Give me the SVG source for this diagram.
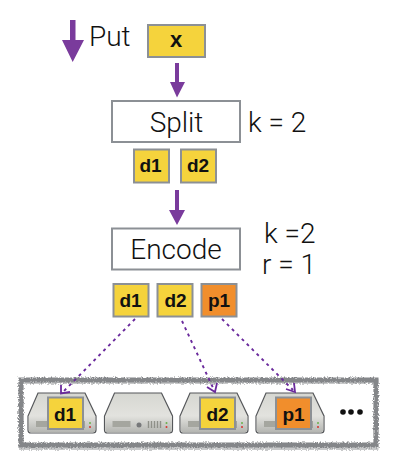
<svg xmlns="http://www.w3.org/2000/svg" xmlns:xlink="http://www.w3.org/1999/xlink" width="400" height="472" viewBox="0 0 400 472">
<style>
.lbl{font-family:"Roboto","Liberation Sans",sans-serif;font-weight:300;fill:#111;font-size:28px}
.box{fill:#fff;stroke:#8c9095;stroke-width:2}
.y{fill:#f5d33c;stroke:#8c9095;stroke-width:2}
.o{fill:#f18e2c;stroke:#8c9095;stroke-width:2}
.t{font-family:"Liberation Sans",sans-serif;font-weight:700;font-size:19px;fill:#111;text-anchor:middle}
.fat{fill:#7a3b9c}
.dash{fill:none;stroke:#6a2a9c;stroke-width:1.9;stroke-dasharray:3 4}
.head{fill:none;stroke:#6a2a9c;stroke-width:1.8}
</style>
<defs>
<linearGradient id="gt" x1="0" y1="0" x2="0" y2="1"><stop offset="0" stop-color="#d6d7d1"/><stop offset="1" stop-color="#ebebe8"/></linearGradient>
<linearGradient id="gb" x1="0" y1="0" x2="0" y2="1"><stop offset="0" stop-color="#e2e2de"/><stop offset="1" stop-color="#b4b5b1"/></linearGradient>
<filter id="rough" x="-5%" y="-15%" width="110%" height="130%">
<feTurbulence type="fractalNoise" baseFrequency="0.7" numOctaves="2" seed="3" result="n"/>
<feDisplacementMap in="SourceGraphic" in2="n" scale="4" result="d"/>
<feGaussianBlur in="d" stdDeviation="0.6"/>
</filter>
<g id="server">
<path d="M10 1H57L68 24V38Q68 41 65 41H3Q0 41 0 38V24Z" fill="url(#gt)" stroke="#55575a" stroke-width="1.2"/>
<path d="M0.8 24H67.2V38Q67.2 40.4 65 40.4H3Q0.8 40.4 0.8 38Z" fill="url(#gb)"/>
<rect x="8" y="29" width="18" height="6" fill="#a5a69f"/>
<path d="M44 29v7M47 29v7M50 29v7M53 29v7M56 29v7" stroke="#8f9089" stroke-width="1.4"/>
<circle cx="62" cy="31" r="1" fill="#6ab04c"/>
<circle cx="62" cy="35" r="1" fill="#d6322c"/>
</g>
</defs>
<rect width="400" height="472" fill="#fff"/>

<g id="frame">
<rect x="21" y="381.500" width="355" height="66" fill="none" stroke="#c8c9ca" stroke-width="5" filter="url(#rough)"/>
<rect x="21" y="380" width="355" height="65" fill="none" stroke="#848689" stroke-width="5" filter="url(#rough)"/>
</g>

<g id="put-arrow"><path class="fat" d="M70 20H75.500V40H84L72.700 62L62 40H70Z"/><text class="lbl" x="89" y="46">Put</text></g>

<g id="node-x"><rect class="y" x="148" y="25" width="57" height="32"/><text class="t" x="176" y="47" style="font-size:22px">x</text></g>

<g id="node-split"><rect class="box" x="112" y="101" width="128" height="41"/><text class="lbl" x="176.500" y="131.500" text-anchor="middle">Split</text></g>
<text id="label-k1" class="lbl" x="248" y="131.500">k = 2</text>

<g id="split-d1"><rect class="y" x="134" y="149.500" width="35" height="33"/><text class="t" x="150.500" y="172">d1</text></g>
<g id="split-d2"><rect class="y" x="181" y="149.500" width="35" height="33"/><text class="t" x="198" y="172">d2</text></g>

<g id="node-encode"><rect class="box" x="112" y="228.500" width="128" height="41"/><text class="lbl" x="176" y="259" text-anchor="middle">Encode</text></g>
<text id="label-k2" class="lbl" x="264" y="243">k =2</text>
<text id="label-r" class="lbl" x="262" y="274">r = 1</text>

<g id="enc-d1"><rect class="y" x="113.500" y="284" width="35" height="32.500"/><text class="t" x="130.500" y="306.500">d1</text></g>
<g id="enc-d2"><rect class="y" x="157.500" y="284" width="35" height="32.500"/><text class="t" x="175.500" y="306.500">d2</text></g>
<g id="enc-p1"><rect class="o" x="201.500" y="284" width="35" height="32.500"/><text class="t" x="219" y="306.500">p1</text></g>

<g id="server-1"><use xlink:href="#server" x="28" y="392"/><rect class="y" x="48" y="397.500" width="35" height="31.500"/><text class="t" x="65" y="420.500">d1</text></g>
<g id="server-2"><use xlink:href="#server" x="104.500" y="392"/><circle cx="139" cy="425" r="2.500" fill="#77787a"/></g>
<g id="server-3"><use xlink:href="#server" x="180" y="392"/><rect class="y" x="200" y="397.500" width="35" height="31.500"/><text class="t" x="217.500" y="420.500">d2</text></g>
<g id="server-4"><use xlink:href="#server" x="256" y="392"/><rect class="o" x="276" y="397.500" width="35" height="31.500"/><text class="t" x="293.500" y="420.500">p1</text></g>

<g id="more"><circle cx="343" cy="412" r="2.800" fill="#111"/><circle cx="351" cy="412" r="2.800" fill="#111"/><circle cx="360" cy="412" r="2.800" fill="#111"/></g>

<g id="connectors">
<path class="fat" d="M175 63H179V82H185L177 97.500L170 82H175Z"/>
<path class="fat" d="M175 190H179V210H185L177 225L169 210H175Z"/>
<path class="dash" d="M135 319L64 391"/>
<path class="head" d="M61 385L61 393.500L70 392"/>
<path class="dash" d="M182 321L214 390"/>
<path class="head" d="M207 387L215 392L217 383"/>
<path class="dash" d="M222 319L293 390"/>
<path class="head" d="M286 389L295 392L294 383"/>
</g>
</svg>
